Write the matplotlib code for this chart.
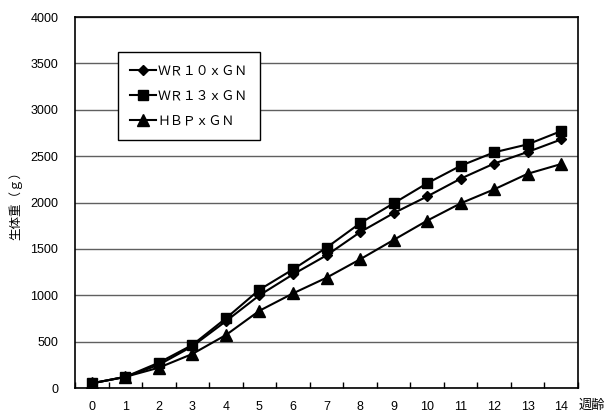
import matplotlib
matplotlib.use("Agg")
import matplotlib.pyplot as plt
import numpy as np

plt.rcParams['font.family'] = ['Liberation Sans', 'Noto Sans CJK JP', 'DejaVu Sans']

# data
weeks = list(range(15))
wr10 = [50, 120, 250, 450, 720, 1000, 1225, 1430, 1680, 1885, 2065, 2257, 2420, 2545, 2680]
wr13 = [50, 120, 273, 464, 751, 1060, 1279, 1513, 1776, 1991, 2207, 2396, 2541, 2627, 2770]
hbp = [50, 120, 219, 367, 571, 833, 1020, 1189, 1387, 1596, 1804, 1991, 2142, 2310, 2415]
labels = ['ＷＲ１０ｘＧＮ', 'ＷＲ１３ｘＧＮ', 'ＨＢＰｘＧＮ']
yticks = [0, 500, 1000, 1500, 2000, 2500, 3000, 3500, 4000]

fig = plt.figure(figsize=(6.1, 4.19), dpi=100)
ax = fig.add_axes([75 / 610, 31 / 419, 503 / 610, 371 / 419])

x = np.array(weeks)
ax.plot(x, wr10, color='black', lw=1.5, marker='D', ms=5.5, label=labels[0], zorder=3)
ax.plot(x, wr13, color='black', lw=1.5, marker='s', ms=7, label=labels[1], zorder=3)
ax.plot(x, hbp, color='black', lw=1.5, marker='^', ms=8, label=labels[2], zorder=3)

ax.set_xlim(-0.5, 14.5)
ax.set_ylim(0, 4000)
ax.set_yticks(yticks)
ax.set_yticklabels([str(v) for v in yticks], fontsize=9)
ax.set_xticks(weeks)
ax.set_xticklabels([str(w) for w in weeks], fontsize=9)
ax.set_xticks(np.arange(-0.5, 15, 1), minor=True)
ax.tick_params(axis='x', which='major', length=0, pad=9)
ax.tick_params(axis='x', which='minor', direction='in', length=4, width=1)
ax.tick_params(axis='y', length=0, pad=12)
ax.grid(axis='y', color='#606060', lw=1)
ax.set_axisbelow(True)
for s in ax.spines.values():
    s.set_color('black')
    s.set_linewidth(1.2)

ax.set_ylabel('生体重（ｇ）', family=['Noto Sans CJK JP'], fontsize=9, labelpad=6)
fig.text(592 / 610, 1 - 405 / 419, '週齢', family=['Noto Sans CJK JP'], fontsize=9.5,
         ha='center', va='center')

leg = ax.legend(loc='upper left', bbox_to_anchor=(0.085, 0.906), borderaxespad=0,
                fancybox=False, framealpha=1, edgecolor='black', handlelength=2.0,
                handletextpad=0.15, labelspacing=0.95, borderpad=0.95,
                prop={'family': 'Noto Sans CJK JP', 'size': 9.3})
leg.get_frame().set_linewidth(1)

fig.savefig('out.png', dpi=100)
